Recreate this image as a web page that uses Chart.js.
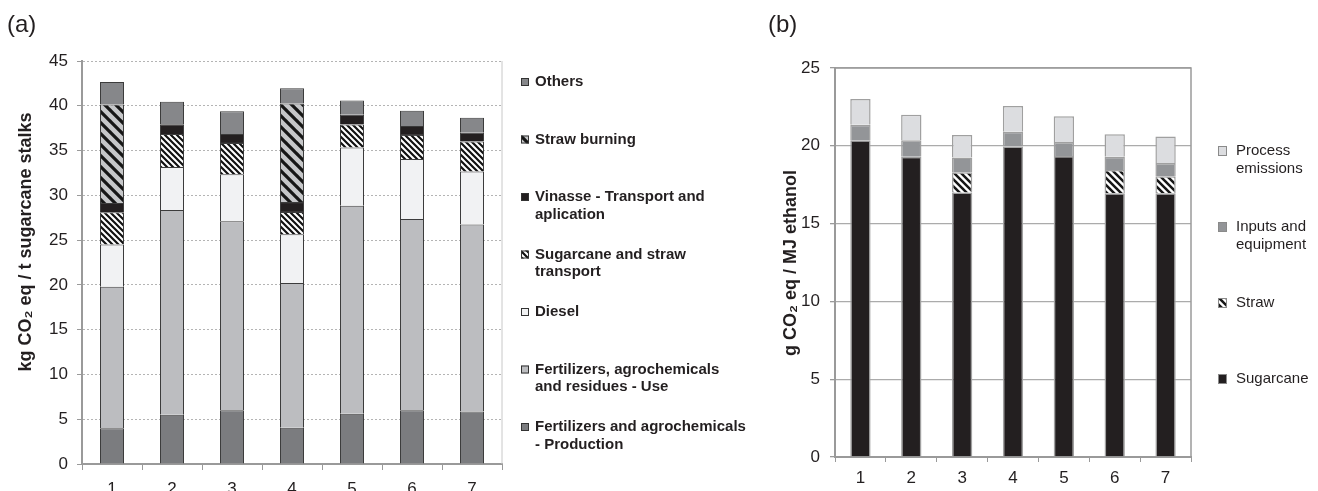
<!DOCTYPE html>
<html><head><meta charset="utf-8">
<script src="https://cdn.jsdelivr.net/npm/chart.js@4/dist/chart.umd.min.js"></script>
<style>
html,body{margin:0;padding:0;background:#fff;width:1318px;height:491px;overflow:hidden;}
#ca{position:absolute;left:0;top:0;}
#cb{position:absolute;left:760px;top:0;}
</style></head><body>
<canvas id="ca" width="760" height="491"></canvas>
<canvas id="cb" width="558" height="491"></canvas>
<script>
// ---------- data ----------
const scenarios = ['1','2','3','4','5','6','7'];
const yTicksA = [0,5,10,15,20,25,30,35,40,45];
const yTicksB = [0,5,10,15,20,25];

// Panel (a): kg CO2 eq / t sugarcane stalks
const fertProduction     = [4.0, 5.5, 6.0, 4.05, 5.6, 6.0, 5.85];
const fertUse            = [15.8, 22.85, 21.1, 16.15, 23.25, 21.35, 20.9];
const diesel             = [4.7, 4.8, 5.25, 5.45, 6.5, 6.7, 5.9];
const caneStrawTransport = [3.6, 3.7, 3.5, 2.5, 2.55, 2.7, 3.35];
const vinasse            = [1.05, 1.1, 1.0, 1.1, 1.1, 1.0, 1.0];
const strawBurning       = [11.0, 0, 0, 11.0, 0, 0, 0];
const othersA            = [2.5, 2.5, 2.55, 1.7, 1.6, 1.7, 1.65];
const namesA = ['Fertilizers and agrochemicals\n- Production', 'Fertilizers, agrochemicals\nand residues - Use',
  'Diesel', 'Sugarcane and straw\ntransport', 'Vinasse - Transport and\naplication', 'Straw burning', 'Others'];

// Panel (b): g CO2 eq / MJ ethanol
const sugarcaneB = [20.35, 19.3, 17.0, 19.95, 19.35, 16.95, 16.95];
const strawB     = [0, 0, 1.3, 0, 0, 1.5, 1.1];
const inputsB    = [1.0, 1.05, 0.95, 0.95, 0.9, 0.85, 0.85];
const processB   = [1.65, 1.65, 1.45, 1.65, 1.65, 1.45, 1.7];
const namesB = ['Sugarcane', 'Straw', 'Inputs and\nequipment', 'Process\nemissions'];

// ---------- styling ----------
const FONT = "'Liberation Sans', Arial, Helvetica, sans-serif";
Chart.defaults.font.family = FONT;
Chart.defaults.color = '#231f20';

function stripes(bg, fg, size, lw) {
  const c = document.createElement('canvas'); c.width = size; c.height = size;
  const g = c.getContext('2d');
  g.fillStyle = bg; g.fillRect(0, 0, size, size);
  g.strokeStyle = fg; g.lineWidth = lw; g.lineCap = 'square';
  g.beginPath();
  for (const o of [-size, 0, size]) { g.moveTo(o, 0); g.lineTo(o + size, size); }
  g.stroke();
  return g.createPattern(c, 'repeat');
}
const patTransport = stripes('#ffffff', '#111111', 6, 2.2);
const patBurning   = stripes('#c6c7c9', '#161616', 11, 3.2);
const patStrawB    = stripes('#ffffff', '#161616', 7, 2.5);

const fillsA = ['#7b7c7f', '#bcbdc0', '#f1f2f3', patTransport, '#231f20', patBurning, '#86878a'];
const valsA = [fertProduction, fertUse, diesel, caneStrawTransport, vinasse, strawBurning, othersA];
const fillsB = ['#231f20', patStrawB, '#939598', '#dcdde0'];
const valsB = [sugarcaneB, strawB, inputsB, processB];

function textPlugin(cfg) {
  return {
    id: 'extras' + cfg.key,
    beforeDatasetsDraw(chart) {
      const {ctx, chartArea: a} = chart;
      ctx.save();
      ctx.strokeStyle = cfg.frameColor; ctx.lineWidth = cfg.frameWidth;
      ctx.beginPath();
      if (cfg.fullFrame) {
        ctx.moveTo(a.left, a.top); ctx.lineTo(a.right, a.top); ctx.lineTo(a.right, a.bottom);
      } else {
        ctx.moveTo(a.right, a.top); ctx.lineTo(a.right, a.bottom);
      }
      ctx.stroke();
      ctx.restore();
    },
    afterDraw(chart) {
      const {ctx} = chart;
      ctx.save();
      // panel letter
      ctx.fillStyle = '#231f20';
      ctx.font = '24px ' + FONT;
      ctx.textAlign = 'left'; ctx.textBaseline = 'alphabetic';
      ctx.fillText(cfg.panel, cfg.panelX, 32);
      // y-axis title
      ctx.save();
      ctx.translate(cfg.titleX, cfg.titleY);
      ctx.rotate(-Math.PI / 2);
      ctx.font = 'bold 18px ' + FONT;
      ctx.textAlign = 'center'; ctx.textBaseline = 'middle';
      ctx.fillText(cfg.title, 0, 0);
      ctx.restore();
      // legend (reverse order: top of stack first)
      const ds = chart.data.datasets;
      ctx.font = cfg.legendFont;
      ctx.textAlign = 'left'; ctx.textBaseline = 'middle';
      for (let k = 0; k < ds.length; k++) {
        const d = ds[ds.length - 1 - k];
        const yc = cfg.legY0 + k * cfg.legStep;
        ctx.fillStyle = d.backgroundColor;
        ctx.fillRect(cfg.sqX, yc - cfg.sqH / 2, cfg.sqW, cfg.sqH);
        ctx.strokeStyle = cfg.sqStroke; ctx.lineWidth = 1;
        ctx.strokeRect(cfg.sqX + 0.5, yc - cfg.sqH / 2 + 0.5, cfg.sqW - 1, cfg.sqH - 1);
        ctx.fillStyle = '#231f20';
        d.label.split('\n').forEach((line, j) => ctx.fillText(line, cfg.textX, yc + j * cfg.lineH));
      }
      ctx.restore();
    }
  };
}

// ---------- chart (a) ----------
new Chart(document.getElementById('ca'), {
  type: 'bar',
  data: {
    labels: scenarios,
    datasets: valsA.map((v, i) => ({
      label: namesA[i], data: v, backgroundColor: fillsA[i],
      borderColor: '#3c3c3c',
      borderWidth: c => (c.raw ? 1 : 0),
      barPercentage: 0.4, categoryPercentage: 1.0
    }))
  },
  options: {
    responsive: false, animation: false, devicePixelRatio: 1,
    layout: {padding: {left: 0, right: 258, top: 61, bottom: 0}},
    plugins: {legend: {display: false}, tooltip: {enabled: false}},
    scales: {
      x: {
        stacked: true,
        grid: {offset: true, drawOnChartArea: false, tickLength: 6, color: '#9a9a9a', lineWidth: 1},
        border: {display: true, color: '#9a9a9a', width: 2},
        ticks: {font: {size: 17}, color: '#231f20', padding: 9},
        afterFit: s => { s.height = 27; }
      },
      y: {
        stacked: true, min: 0, max: 45,
        afterBuildTicks: s => { s.ticks = yTicksA.map(v => ({value: v})); },
        ticks: {font: {size: 17}, color: '#231f20', padding: 9},
        grid: {color: '#b4b4b4', lineWidth: 1, tickLength: 5, tickColor: '#9a9a9a'},
        border: {display: true, color: '#9a9a9a', width: 2, dash: [2, 2]},
        afterFit: s => { s.width = 82; }
      }
    }
  },
  plugins: [textPlugin({
    key: 'a', panel: '(a)', panelX: 7,
    title: 'kg CO\u2082 eq / t sugarcane stalks', titleX: 26, titleY: 242,
    frameColor: '#c8c8c8', frameWidth: 1, fullFrame: false,
    legendFont: 'bold 15px ' + FONT, legY0: 82, legStep: 57.5, lineH: 17.5,
    sqX: 521, sqW: 8, sqH: 8, sqStroke: '#333333', textX: 535
  })]
});

// ---------- chart (b) ----------
new Chart(document.getElementById('cb'), {
  type: 'bar',
  data: {
    labels: scenarios,
    datasets: valsB.map((v, i) => ({
      label: namesB[i], data: v, backgroundColor: fillsB[i],
      borderColor: '#a0a0a0',
      borderWidth: c => (c.raw ? 1.5 : 0),
      barPercentage: 0.4, categoryPercentage: 1.0
    }))
  },
  options: {
    responsive: false, animation: false, devicePixelRatio: 1,
    layout: {padding: {left: 0, right: 127, top: 68, bottom: 0}},
    plugins: {legend: {display: false}, tooltip: {enabled: false}},
    scales: {
      x: {
        stacked: true,
        grid: {offset: true, drawOnChartArea: false, tickLength: 5, color: '#9a9a9a', lineWidth: 1},
        border: {display: true, color: '#9a9a9a', width: 2},
        ticks: {font: {size: 17}, color: '#231f20', padding: 6},
        afterFit: s => { s.height = 34; }
      },
      y: {
        stacked: true, min: 0, max: 25,
        afterBuildTicks: s => { s.ticks = yTicksB.map(v => ({value: v})); },
        ticks: {font: {size: 17}, color: '#231f20', padding: 10},
        grid: {color: '#ababab', lineWidth: 1.3, tickLength: 5, tickColor: '#9a9a9a'},
        border: {display: true, color: '#9a9a9a', width: 2},
        afterFit: s => { s.width = 75; }
      }
    }
  },
  plugins: [textPlugin({
    key: 'b', panel: '(b)', panelX: 8,
    title: 'g CO\u2082 eq / MJ ethanol', titleX: 31, titleY: 263,
    frameColor: '#9a9a9a', frameWidth: 1.5, fullFrame: true,
    legendFont: '15px ' + FONT, legY0: 151, legStep: 76, lineH: 17.5,
    sqX: 458, sqW: 9, sqH: 10, sqStroke: '#8a8a8a', textX: 476
  })]
});
</script>
</body></html>
